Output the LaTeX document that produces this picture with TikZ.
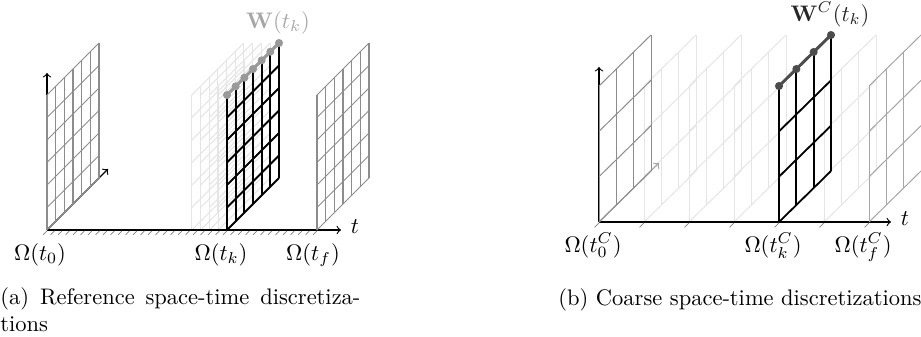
\documentclass[tikz,border=0pt]{standalone}
\usepackage{amsmath}
\begin{document}
\begin{tikzpicture}[x=0.4444pt,y=-0.4444pt,>=to,
  gridgray/.style={black!45,line width=0.45pt},
  gridgrayb/.style={black!35,line width=0.45pt},
  gridfade/.style={black!10,line width=0.45pt},
  gridblack/.style={black,line width=0.8pt},
  axisline/.style={black,line width=0.5pt,->},
  hatchmark/.style={black!50,line width=0.3pt},
  lbl/.style={inner sep=0pt,anchor=base}]
\useasboundingbox (0,0) rectangle (921,336);
\newcommand{\stgrid}[5]{%
  \foreach \j in {0,...,#3}{
    \draw[#5] ({#1+\gdx*\j/#3},{#2-\gdy*\j/#3}) -- ++(0,-\gh);
  }
  \foreach \i in {0,...,#4}{
    \draw[#5] ({#1},{#2-\gh*\i/#4}) -- ++(\gdx,-\gdy);
  }
}
% ---------------- panel (a) ----------------
\def\gdx{52}\def\gdy{52}\def\gh{135}
\foreach \k in {1,...,4}{\stgrid{227-8.8*\k}{230}{6}{6}{gridfade}}
\coordinate (Oa) at (47,230);
\coordinate (TaEnd) at (341,230);
\coordinate (VaEnd) at (47,73);
\coordinate (DaEnd) at (108,169);
\draw[axisline] (Oa) -- (TaEnd);
\draw[axisline] (Oa) -- (VaEnd);
\draw[axisline] (Oa) -- (DaEnd);
\foreach \k in {0,...,36}{\draw[hatchmark] ({47+7.5*\k},230.8) -- ++(-4,4);}
\stgrid{47}{230}{6}{6}{gridgray}
\stgrid{317}{230}{6}{6}{gridgray}
\stgrid{227}{230}{6}{6}{gridblack}
\draw[black!40,line width=1.3pt] (227,95) -- (279,43);
\foreach \j in {0,...,6}{\fill[black!40] ({227+52*\j/6},{95-52*\j/6}) circle (1.8pt);}
\node[lbl] (ta) at (355,233) {$t$};
\node[lbl] (om0a) at (40,260) {$\Omega(t_0)$};
\node[lbl] (omka) at (221,260) {$\Omega(t_k)$};
\node[lbl] (omfa) at (313,260) {$\Omega(t_f)$};
\node[lbl,text=black!35] (wa) at (278,28) {$\mathbf{W}(t_k)$};
\node[inner sep=0pt,anchor=north west,text width=160pt,align=justify] (capa) at (0,287)
  {(a) Reference space-time discretiza-\linebreak tions};
% ---------------- panel (b) ----------------
\def\gdx{52}\def\gdy{51}\def\gh{136}
\foreach \k in {1,2,3,5}{\stgrid{599+45*\k}{222}{3}{3}{gridfade}}
\coordinate (Ob) at (599,222);
\coordinate (TbEnd) at (891,222);
\coordinate (VbEnd) at (599,67);
\coordinate (DbEnd) at (659,163);
\draw[axisline] (Ob) -- (TbEnd);
\draw[axisline] (Ob) -- (VbEnd);
\draw[axisline,black!35] (Ob) -- (DbEnd);
\foreach \k in {0,...,6}{\draw[hatchmark] ({599+45*\k},222.8) -- ++(-4.5,4.5);}
\stgrid{599}{222}{3}{3}{gridgray}
\stgrid{869}{222}{3}{3}{gridgrayb}
\stgrid{779}{222}{3}{3}{gridblack}
\draw[black!70,line width=1.3pt] (779,86) -- (831,35);
\foreach \j in {0,...,3}{\fill[black!70] ({779+52*\j/3},{86-51*\j/3}) circle (1.8pt);}
\node[lbl] (tb) at (905,225) {$t$};
\node[lbl] (om0b) at (593,252) {$\Omega(t_0^C)$};
\node[lbl] (omkb) at (773,252) {$\Omega(t_k^C)$};
\node[lbl] (omfb) at (863,252) {$\Omega(t_f^C)$};
\node[lbl,text=black!85] (wb) at (830,21) {$\mathbf{W}^C(t_k)$};
\node[inner sep=0pt,anchor=base west] (capb) at (558,305)
  {(b) Coarse space-time discretizations};
\end{tikzpicture}
\end{document}
